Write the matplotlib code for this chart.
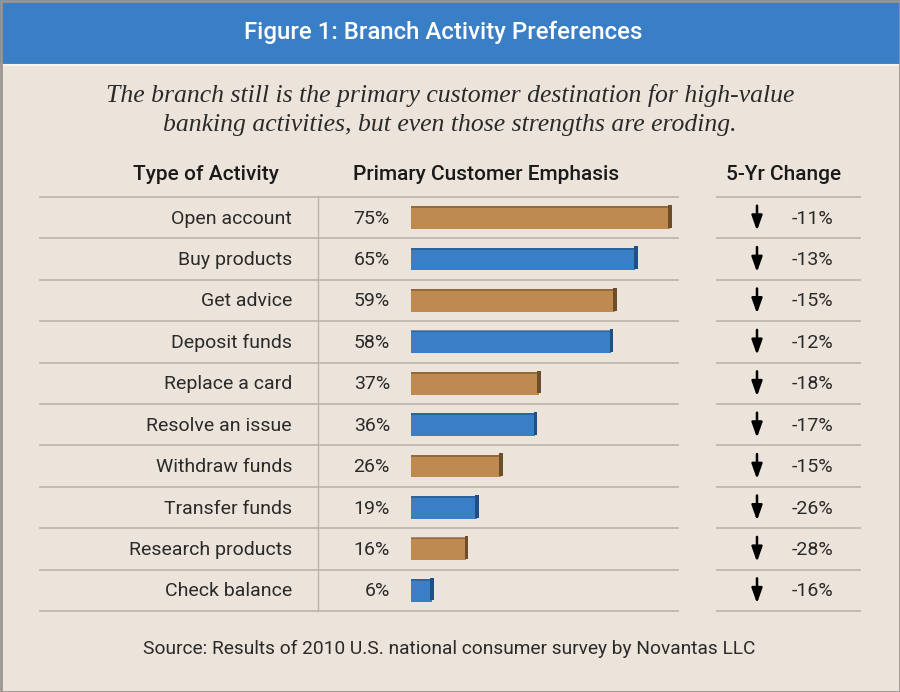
import matplotlib
matplotlib.use("Agg")
import matplotlib.pyplot as plt
from matplotlib.patches import Rectangle

activities = ["Open account", "Buy products", "Get advice", "Deposit funds",
              "Replace a card", "Resolve an issue", "Withdraw funds",
              "Transfer funds", "Research products", "Check balance"]
emphasis = [75, 65, 59, 58, 37, 36, 26, 19, 16, 6]
change = [-11, -13, -15, -12, -18, -17, -15, -26, -28, -16]

title = "Figure 1: Branch Activity Preferences"
subtitle = ("The branch still is the primary customer destination for high-value\n"
            "banking activities, but even those strengths are eroding.")
headers = ["Type of Activity", "Primary Customer Emphasis", "5-Yr Change"]
source = "Source: Results of 2010 U.S. national consumer survey by Novantas LLC"

BG = "#ECE4DA"
BLUE = "#3A7EC5"
TAN = "#BE8A50"
BLUE_D = "#1F4F86"
TAN_D = "#6E4E28"
LINE = "#B9B3AC"
TXT = "#2A2A2A"

SANS = ["Roboto", "DejaVu Sans"]
SERIF = ["Liberation Serif", "DejaVu Serif"]

W, H = 900, 692
fig = plt.figure(figsize=(9, 6.92), dpi=100, facecolor=BG)

dec = fig.add_axes([0, 0, 1, 1])
dec.set_xlim(0, W)
dec.set_ylim(H, 0)
dec.axis("off")
dec.add_patch(Rectangle((0, 0), W, 64, color=BLUE, zorder=1))
dec.plot([0, W], [64.5, 64.5], color="#F6F2EC", lw=1.5, zorder=2)
dec.add_patch(Rectangle((0.5, 0.5), W - 1, H - 1, fill=False, ec="#9A958F", lw=2, zorder=3))

dec.text(443, 32, title, color="white", fontsize=17.3, family=SANS,
         ha="center", va="center", fontweight="medium")
dec.text(450, 110, subtitle, color=TXT, fontsize=18.5, family=SERIF, style="italic",
         ha="center", va="center", linespacing=1.4)

hdr_x = [206, 486, 784]
for hx, h in zip(hdr_x, headers):
    dec.text(hx, 174, h, color="#1A1A1A", fontsize=15, family=SANS,
             ha="center", va="center", fontweight="medium")

dec.text(449, 649, source, color=TXT, fontsize=13.8, family=SANS,
         ha="center", va="center")

top, bottom = 197, 611
n = len(activities)
pitch = (bottom - top) / n

for i in range(n + 1):
    y = top + i * pitch
    dec.plot([40, 678], [y, y], color=LINE, lw=1.2, zorder=2)
    dec.plot([717, 860], [y, y], color=LINE, lw=1.2, zorder=2)
dec.plot([318, 318], [top, bottom], color=LINE, lw=1.0, zorder=2)

x0_px, px_per = 411, 3.45
bax = fig.add_axes([x0_px / W, 1 - bottom / H, 100 * px_per / W, (bottom - top) / H])
bax.set_xlim(0, 100)
bax.set_ylim(n - 0.5, -0.5)
bax.axis("off")
bax.patch.set_alpha(0)

ys = list(range(n))
colors = [TAN if i % 2 == 0 else BLUE for i in range(n)]
dcolors = [TAN_D if i % 2 == 0 else BLUE_D for i in range(n)]
bh = 0.55
bax.barh(ys, emphasis, height=bh, color=colors, zorder=3)
bax.barh([y - bh / 2 + 0.02 for y in ys], emphasis, height=0.05, color=dcolors, alpha=0.55, zorder=4)
side_w = 1.1
bax.barh([y - 0.03 for y in ys], [side_w] * n, left=[v - side_w * 0.4 for v in emphasis],
         height=bh, color=dcolors, zorder=4)

for i, (a, v, c) in enumerate(zip(activities, emphasis, change)):
    yc = top + (i + 0.5) * pitch + 1
    dec.text(292, yc, a, color=TXT, fontsize=14, family=SANS, ha="right", va="center")
    dec.text(390, yc, f"{v}%", color=TXT, fontsize=14, family=SANS, ha="right", va="center")
    dec.text(833, yc, f"{c}%", color=TXT, fontsize=14, family=SANS, ha="right", va="center")
    dec.annotate("", xy=(757, yc + 12), xytext=(757, yc - 13),
                 arrowprops=dict(arrowstyle="-|>,head_length=0.9,head_width=0.32",
                                 color="black", lw=1.8, shrinkA=0, shrinkB=0))

fig.savefig("out.png", dpi=100, facecolor=BG)
